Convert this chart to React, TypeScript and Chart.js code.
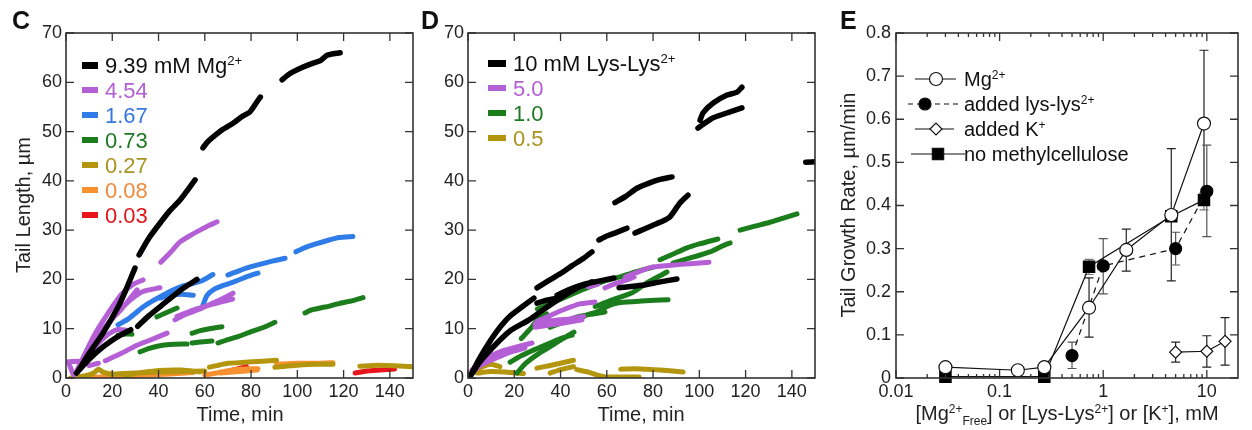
import React, { useEffect, useRef } from "react";
import { Chart, registerables } from "chart.js";
Chart.register(...registerables);

const FONT = "'Liberation Sans', Arial, Helvetica, sans-serif";
type Seg = [number, number][];

// ---------------- Panel C : Tail length vs time, Mg2+ ----------------
const C_X_TICKS = [0, 20, 40, 60, 80, 100, 120, 140];
const C_Y_TICKS = [0, 10, 20, 30, 40, 50, 60, 70];
const C_LABELS = ["9.39 mM Mg^{2+}", "4.54", "1.67", "0.73", "0.27", "0.08", "0.03"];
const C_COLORS = ["#000000", "#b45fd6", "#2f7be8", "#1b7d1b", "#b4960e", "#f7902e", "#e8161c"];
const C_TEXT_COLORS = ["#111111", "#b35fd4", "#3577e0", "#1e7a22", "#a99320", "#ef8a3c", "#e0161c"];

const C_MG939: Seg[] = [
  [[5, 1.2], [10, 5], [16, 9.1], [22.5, 14.4], [26, 18], [29.8, 22.3]],
  [[31.6, 25], [36, 28.5], [40.6, 31.4], [45, 34], [49.3, 36.1], [55.8, 40.2]],
  [[59.2, 46.7], [61, 47.8], [63.1, 48.7], [68, 50.5], [72.2, 51.7], [76, 53], [79.5, 54], [82.5, 56], [84, 57]],
  [[93.4, 60.5], [96, 61.5], [98.1, 62.1], [102, 63], [106.8, 63.9], [110, 64.4], [112.8, 65.5], [118.5, 66]],
  [[4.5, 1], [10, 3.8], [16, 6.3], [22, 8.3], [28, 9.8]],
  [[31, 10.5], [36, 12.7], [41, 14.6], [46, 16.5], [51, 18.3], [56.6, 20]],
];
const C_MG454: Seg[] = [
  [[41, 23.5], [45, 25.4], [49.3, 27.6], [54, 29], [57.9, 30], [62, 31], [65.3, 31.7]],
  [[4.8, 1.6], [12, 8.5], [18, 13], [24, 17], [29, 19], [33.3, 19.9]],
  [[4.8, 1.6], [13, 8], [20, 12], [27, 15.5], [33, 17.5], [40.6, 18.3]],
  [[4.8, 1.6], [12, 7], [18, 11], [24, 14], [30.7, 17.9]],
  [[4.8, 1.6], [12, 6], [18, 8.8], [22, 9.8], [26.4, 9.7]],
  [[10, 2.5], [14, 3]],
  [[17, 3.5], [24, 5], [30, 6.5], [37, 7.8], [43.7, 9.1]],
  [[47.1, 11.8], [52, 13], [58, 14], [64, 15.3], [68, 16.2], [72.2, 17.2]],
  [[48, 12.5], [55, 13.8], [62, 14.8], [72, 16]],
  [[1, 3.3], [7, 3.3], [3.5, 0.6], [1, 3.3]],
];
const C_MG167: Seg[] = [
  [[22.5, 10.8], [27, 12], [33.3, 14.4], [38, 15.8], [41.9, 16.8], [46, 17.8], [50, 18.6], [55, 19.2], [59, 19.8], [63.5, 21]],
  [[40.6, 16.2], [45, 16.8], [50, 17], [55, 16.8]],
  [[59.2, 14.8], [61, 16.8], [64, 18], [68, 18.8], [72, 19.4], [78, 20.5], [83, 21.3]],
  [[70, 20.9], [75, 21.8], [80, 22.6], [85, 23.2], [90, 23.8], [94.7, 24.3]],
  [[99.4, 25.6], [103, 26.4], [108, 27.2], [113, 27.9], [118, 28.5], [124, 28.7]],
];
const C_MG073: Seg[] = [
  [[22.5, 8.7], [25, 8.9], [28.5, 8.9]],
  [[39.3, 12.4], [43, 13.2], [48, 14.2]],
  [[32, 5.3], [36, 6], [40, 6.5], [45, 6.8], [52.3, 6.9]],
  [[54.5, 7.1], [58, 7.3], [63.1, 7.5]],
  [[54.5, 9.1], [58, 9.6], [62, 10], [67.4, 10.4]],
  [[65.7, 7.1], [70, 7.8], [75, 8.5], [80, 9.4], [85, 10.2], [90.3, 11.3]],
  [[103.3, 13.2], [106, 13.8], [112, 14.4], [118, 15.1], [124, 15.7], [128.4, 16.3]],
];
const C_MG027: Seg[] = [
  [[2, 0], [8, 0.4], [12, 1], [14, 1.8], [16, 1.2], [20, 0.8], [30, 1], [40, 1.2], [50, 1.3], [60, 1.4]],
  [[25, 0.6], [40, 1.5], [50, 1.6], [58, 1.2]],
  [[62, 2.2], [66, 2.6], [70, 3], [75, 3.1], [80, 3.3], [85, 3.4], [91, 3.6]],
  [[90.3, 2.2], [95, 2.4], [100, 2.6], [108, 2.8], [115.4, 2.8]],
  [[127, 2.4], [135, 2.6], [142, 2.5], [150, 2.3]],
];
const C_MG008: Seg[] = [
  [[3, 0], [15, 0.2], [30, 0.5], [45, 0.8], [55, 1.1]],
  [[60, 0.6], [65, 1], [70, 1.5], [75, 1.8], [83, 1.9]],
  [[66.6, 1], [75, 1.3], [82.6, 1.6]],
  [[91, 2.8], [100, 3], [110, 3], [115.4, 3.1]],
];
const C_MG003: Seg[] = [
  [[125, 1], [130, 1.4], [136, 1.6], [142, 1.8]],
  [[28, 0.8], [33, 1], [38, 1.2]],
  [[72, 1.6], [78, 2.3]],
  [[5, 0], [12, 0.1]],
];
const C_SERIES = [C_MG939, C_MG454, C_MG167, C_MG073, C_MG027, C_MG008, C_MG003];

// ---------------- Panel D : Lys-Lys2+ ----------------
const D_LABELS = ["10 mM Lys-Lys^{2+}", "5.0", "1.0", "0.5"];
const D_COLORS = ["#000000", "#b45fd6", "#1b7d1b", "#b4960e"];
const D_TEXT_COLORS = ["#111111", "#b35fd4", "#1e7a22", "#a99320"];

const D_LYS10: Seg[] = [
  [[0.5, 0], [5, 3.2], [11.7, 6.7], [18, 9.5], [26.4, 11.8], [33, 14], [40.6, 16.4], [47, 18.2], [53.6, 19.5]],
  [[0.5, 0], [5, 4], [10, 7.8], [13.8, 10.3], [18, 12.5], [23, 14.3], [28.5, 16.2]],
  [[29.8, 15.2], [34, 15.8], [38.5, 16.2]],
  [[38.5, 16.8], [44, 18], [50, 19], [56, 19.6], [63.1, 20.3]],
  [[29.8, 18.3], [35, 19.8], [40, 21.2], [45, 22.8], [50, 24.3], [53.6, 25.6]],
  [[56.6, 28], [60, 28.8], [64, 29.5], [68.7, 30.4]],
  [[65.3, 18.3], [75, 18.8], [82, 19.4], [90.3, 20.1]],
  [[72.2, 29.4], [76, 30.2], [80, 31], [84, 31.8], [87.3, 32.7], [91.6, 35.5], [95.1, 37.1]],
  [[63.5, 35.6], [68, 36.8], [73, 38.5], [78, 39.5], [83, 40.3], [88.2, 40.8]],
  [[100.3, 52.3], [101.6, 53.8], [106, 55.8], [112, 57.4], [116.3, 58], [118.4, 59]],
  [[99.4, 50.7], [102, 51.6], [106, 52.8], [113.3, 54], [118.4, 54.8]],
  [[146, 43.8], [151, 43.9]],
];
const D_LYS5: Seg[] = [
  [[1.7, 1.6], [8, 4], [15, 5.5], [21, 6.3], [27.7, 7.1]],
  [[0, 0], [5, 2.5], [10.4, 3.7], [18, 5.2], [24.6, 6.1]],
  [[29, 10.3], [36, 10.8], [42, 11.2], [49.3, 11.8]],
  [[29, 11], [36, 11.6], [44, 12], [50, 12.5]],
  [[29.8, 11.4], [36, 12.8], [42, 14], [48, 15], [54.9, 15.4]],
  [[59.2, 18.3], [64, 19.2], [68, 19.8], [71.8, 20.5]],
  [[52, 18.5], [56, 19]],
  [[68, 20.5], [75, 21.8], [79.5, 22.5], [88, 22.9], [96, 23.2], [104.2, 23.5]],
];
const D_LYS1: Seg[] = [
  [[18.2, 3.2], [23, 4.5], [28.5, 5.7], [35, 7], [40, 8], [45, 8.7]],
  [[21.2, 1], [25, 3], [30.7, 5], [36, 6.5], [41, 8], [45.8, 9.3]],
  [[23, 8], [27, 10], [30, 11.8], [34, 13]],
  [[30, 14], [40, 16], [50, 18], [58, 19.5], [65.7, 20.5], [72, 21.5], [80, 22.5]],
  [[35.5, 10.3], [42, 11.5], [48, 12.5], [54, 13], [59.2, 13.4]],
  [[48, 12], [51.4, 12.8], [56, 13.5], [61.4, 14.8], [66, 15.3], [75, 15.6], [86.5, 15.9]],
  [[55, 14.5], [62, 15.8], [71, 17.3], [78, 19.5], [86, 21.5]],
  [[83, 24], [88, 25], [94.7, 26.4], [100, 27.2], [108, 28.2]],
  [[88.6, 23.3], [95, 24.2], [104.6, 25.6], [110, 26.8], [113.3, 27.4]],
  [[117.6, 30], [124, 30.8], [130.5, 31.6], [136, 32.4], [142.2, 33.3]],
];
const D_LYS05: Seg[] = [
  [[0.5, 0.5], [5, 2], [10, 2.8], [13.8, 2.3]],
  [[4, 1], [10, 1.3], [16, 1.2], [24, 0.9]],
  [[29.8, 2], [35, 2.5], [40, 3], [45.6, 3.6]],
  [[35.5, 1], [40, 1.7], [45.6, 2.3]],
  [[47, 1.7], [52, 1.2], [56, 0.6], [60, 0.2], [68, 0.2], [74, 0.2]],
  [[66, 1.8], [72, 1.9], [80, 1.7], [86, 1.5], [93, 1.2]],
];
const D_SERIES = [D_LYS10, D_LYS5, D_LYS1, D_LYS05];

// ---------------- Panel E : growth rate vs concentration ----------------
const E_X_TICKS = [0.01, 0.1, 1, 10];
const E_X_TICK_LABELS = ["0.01", "0.1", "1", "10"];
const E_Y_TICKS = [0, 0.1, 0.2, 0.3, 0.4, 0.5, 0.6, 0.7, 0.8];
const E_LABELS = ["Mg^{2+}", "added lys-lys^{2+}", "added K^{+}", "no methylcellulose"];

const E_MG_X = [0.03, 0.15, 0.27, 0.73, 1.67, 4.54, 9.39];
const E_MG_Y = [0.025, 0.018, 0.025, 0.163, 0.297, 0.378, 0.59];
const E_MG_LO = [null, null, null, 0.095, 0.248, 0.225, 0.42];
const E_MG_HI = [null, null, null, 0.232, 0.345, 0.532, 0.76];

const E_LYS_X = [0.5, 1.0, 5.0, 10];
const E_LYS_Y = [0.052, 0.26, 0.3, 0.433];
const E_LYS_LO = [0.022, 0.195, 0.262, 0.328];
const E_LYS_HI = [0.083, 0.323, 0.338, 0.54];

const E_K_X = [5, 10, 15];
const E_K_Y = [0.06, 0.062, 0.085];
const E_K_LO = [0.037, 0.025, 0.03];
const E_K_HI = [0.083, 0.098, 0.14];

const E_NOMC_X = [0.03, 0.27, 0.73, 4.54, 9.39];
const E_NOMC_Y = [0.003, 0.003, 0.258, 0.375, 0.413];
const E_NOMC_LO = [null, null, 0.24, null, 0.39];
const E_NOMC_HI = [null, null, 0.275, null, 0.43];

// ---------------- helpers ----------------
type Part = { t: string; k: "n" | "sup" | "sub" };
function richParts(s: string): Part[] {
  const parts: Part[] = [];
  const re = /\^\{([^}]*)\}|_\{([^}]*)\}/g;
  let last = 0;
  let m: RegExpExecArray | null;
  while ((m = re.exec(s))) {
    if (m.index > last) parts.push({ t: s.slice(last, m.index), k: "n" });
    if (m[1] !== undefined) parts.push({ t: m[1], k: "sup" });
    else parts.push({ t: m[2], k: "sub" });
    last = re.lastIndex;
  }
  if (last < s.length) parts.push({ t: s.slice(last), k: "n" });
  return parts;
}

function drawRich(
  ctx: CanvasRenderingContext2D,
  s: string,
  x: number,
  y: number,
  size: number,
  color: string,
  align: "left" | "center" | "right" = "left",
  weight = "normal"
) {
  const parts = richParts(s);
  const small = size * 0.6;
  let total = 0;
  const widths = parts.map((p) => {
    ctx.font = `${weight} ${p.k === "n" ? size : small}px ${FONT}`;
    const w = ctx.measureText(p.t).width;
    total += w;
    return w;
  });
  let cx = align === "left" ? x : align === "center" ? x - total / 2 : x - total;
  ctx.fillStyle = color;
  ctx.textAlign = "left";
  ctx.textBaseline = "alphabetic";
  const base = y + size * 0.358;
  parts.forEach((p, i) => {
    ctx.font = `${weight} ${p.k === "n" ? size : small}px ${FONT}`;
    const dy = p.k === "sup" ? -size * 0.34 : p.k === "sub" ? size * 0.26 : 0;
    ctx.fillText(p.t, cx, base + dy);
    cx += widths[i];
  });
}

function segData(segs: Seg[]) {
  const out: { x: number; y: number | null }[] = [];
  segs.forEach((s, i) => {
    if (i > 0) out.push({ x: s[0][0], y: null });
    s.forEach(([x, y]) => out.push({ x, y }));
  });
  return out;
}

function pts(xs: number[], ys: number[]) {
  return xs.map((x, i) => ({ x, y: ys[i] }));
}

function drawMarker(ctx: CanvasRenderingContext2D, style: string, x: number, y: number, r: number, fill: string) {
  ctx.beginPath();
  if (style === "circle") ctx.arc(x, y, r, 0, Math.PI * 2);
  else if (style === "rect") {
    const h = r * Math.SQRT1_2;
    ctx.rect(x - h, y - h, 2 * h, 2 * h);
  } else {
    ctx.moveTo(x - r, y);
    ctx.lineTo(x, y - r);
    ctx.lineTo(x + r, y);
    ctx.lineTo(x, y + r);
    ctx.closePath();
  }
  ctx.fillStyle = fill;
  ctx.fill();
  ctx.strokeStyle = "#111";
  ctx.lineWidth = 1.2;
  ctx.stroke();
}

type DecoSpec = {
  id: string;
  letter: [string, number, number];
  xTitle: [string, number, number];
  yTitle?: [string, number, number];
  xTicks: [number, number][];
  yTicks: [number, number][];
  legend: (ctx: CanvasRenderingContext2D) => void;
  beforeData?: (chart: any) => void;
};

function makeDeco(spec: DecoSpec) {
  return {
    id: spec.id,
    beforeDatasetsDraw(chart: any) {
      if (spec.beforeData) spec.beforeData(chart);
    },
    afterDraw(chart: any) {
      const ctx: CanvasRenderingContext2D = chart.ctx;
      const a = chart.chartArea;
      const xs = chart.scales.x;
      const ys = chart.scales.y;
      ctx.save();
      ctx.strokeStyle = "#333";
      ctx.lineWidth = 1.6;
      ctx.strokeRect(a.left, a.top, a.right - a.left, a.bottom - a.top);
      ctx.lineWidth = 1.3;
      ctx.beginPath();
      spec.xTicks.forEach(([v, len]) => {
        const p = xs.getPixelForValue(v);
        ctx.moveTo(p, a.bottom);
        ctx.lineTo(p, a.bottom - len);
        ctx.moveTo(p, a.top);
        ctx.lineTo(p, a.top + len);
      });
      spec.yTicks.forEach(([v, len]) => {
        const p = ys.getPixelForValue(v);
        ctx.moveTo(a.left, p);
        ctx.lineTo(a.left + len, p);
        ctx.moveTo(a.right, p);
        ctx.lineTo(a.right - len, p);
      });
      ctx.stroke();
      drawRich(ctx, spec.letter[0], spec.letter[1], spec.letter[2], 25, "#111", "left", "bold");
      drawRich(ctx, spec.xTitle[0], spec.xTitle[1], spec.xTitle[2], 20, "#222", "center");
      if (spec.yTitle) {
        ctx.save();
        ctx.translate(spec.yTitle[1], spec.yTitle[2]);
        ctx.rotate(-Math.PI / 2);
        drawRich(ctx, spec.yTitle[0], 0, 0, 20, "#222", "center");
        ctx.restore();
      }
      spec.legend(ctx);
      ctx.restore();
    },
  };
}

function linearAxes(xTicks: number[], yTicks: number[], yWidth: number) {
  const tickFont = { family: FONT, size: 18 };
  return {
    x: {
      type: "linear",
      min: 0,
      max: 150,
      grid: { display: false, drawTicks: false },
      border: { display: false },
      afterBuildTicks: (s: any) => {
        s.ticks = xTicks.map((v) => ({ value: v }));
      },
      afterFit: (s: any) => {
        s.height = 52;
      },
      ticks: { font: tickFont, color: "#222", padding: 3, autoSkip: false, maxRotation: 0, minRotation: 0, callback: (v: any) => String(v) },
    },
    y: {
      type: "linear",
      min: 0,
      max: 70,
      grid: { display: false, drawTicks: false },
      border: { display: false },
      afterBuildTicks: (s: any) => {
        s.ticks = yTicks.map((v) => ({ value: v }));
      },
      afterFit: (s: any) => {
        s.width = yWidth;
      },
      ticks: { font: tickFont, color: "#222", padding: 4, autoSkip: false, callback: (v: any) => String(v) },
    },
  };
}

function traceDatasets(series: Seg[][], colors: string[]) {
  return series.map((segs, i) => ({
    data: segData(segs),
    borderColor: colors[i],
    borderWidth: i === 0 ? 5.5 : 5,
    borderCapStyle: "round",
    borderJoinStyle: "round",
    pointRadius: 0,
    tension: 0.2,
    spanGaps: false,
    fill: false,
  }));
}

function configC(): any {
  const deco = makeDeco({
    id: "decoC",
    letter: ["C", 12, 20],
    xTitle: ["Time, min", 240, 414],
    yTitle: ["Tail Length, µm", 23, 205],
    xTicks: C_X_TICKS.map((v) => [v, 8]),
    yTicks: C_Y_TICKS.map((v) => [v, 8]),
    legend: (ctx) => {
      C_LABELS.forEach((lab, i) => {
        const y = 65 + 25 * i;
        ctx.fillStyle = C_COLORS[i];
        ctx.fillRect(82, y - 3, 16, i === 0 ? 7 : 6);
        drawRich(ctx, lab, 105, y, 22, C_TEXT_COLORS[i]);
      });
    },
  });
  return {
    type: "line",
    data: { datasets: traceDatasets(C_SERIES, C_COLORS) },
    options: {
      responsive: false,
      animation: false,
      devicePixelRatio: 1,
      layout: { padding: { left: 0, right: 7, top: 33, bottom: 0 } },
      plugins: { legend: { display: false }, tooltip: { enabled: false } },
      scales: linearAxes(C_X_TICKS, C_Y_TICKS, 66),
    },
    plugins: [deco],
  };
}

function configD(): any {
  const deco = makeDeco({
    id: "decoD",
    letter: ["D", 1, 20],
    xTitle: ["Time, min", 221, 414],
    xTicks: C_X_TICKS.map((v) => [v, 8]),
    yTicks: C_Y_TICKS.map((v) => [v, 8]),
    legend: (ctx) => {
      D_LABELS.forEach((lab, i) => {
        const y = 63 + 25 * i;
        ctx.fillStyle = D_COLORS[i];
        ctx.fillRect(68, y - 3, 18, i === 0 ? 7 : 6);
        drawRich(ctx, lab, 93, y, 22, D_TEXT_COLORS[i]);
      });
    },
  });
  return {
    type: "line",
    data: { datasets: traceDatasets(D_SERIES, D_COLORS) },
    options: {
      responsive: false,
      animation: false,
      devicePixelRatio: 1,
      layout: { padding: { left: 0, right: 15, top: 33, bottom: 0 } },
      plugins: { legend: { display: false }, tooltip: { enabled: false } },
      scales: linearAxes(C_X_TICKS, C_Y_TICKS, 48),
    },
    plugins: [deco],
  };
}

function configE(): any {
  const minor: [number, number][] = [];
  [0.01, 0.1, 1, 10].forEach((d) => {
    for (let k = 2; k <= 9; k++) if (d * k < 20) minor.push([d * k, 4]);
  });
  const errs = [
    { x: E_MG_X, lo: E_MG_LO, hi: E_MG_HI, c: "#222" },
    { x: E_LYS_X, lo: E_LYS_LO, hi: E_LYS_HI, c: "#555" },
    { x: E_K_X, lo: E_K_LO, hi: E_K_HI, c: "#222" },
    { x: E_NOMC_X, lo: E_NOMC_LO, hi: E_NOMC_HI, c: "#777" },
  ];
  const legendStyle = [
    { dash: [] as number[], m: "circle", fill: "#fff", r: 6.5, x0: 915, x1: 956, mx: 936 },
    { dash: [5, 4], m: "circle", fill: "#000", r: 6, x0: 908, x1: 962, mx: 925 },
    { dash: [] as number[], m: "rectRot", fill: "#fff", r: 6, x0: 915, x1: 954, mx: 936 },
    { dash: [] as number[], m: "rect", fill: "#000", r: 8, x0: 911, x1: 965, mx: 938 },
  ];
  const deco = makeDeco({
    id: "decoE",
    letter: ["E", 10, 20],
    xTitle: ["[Mg^{2+}_{Free}] or [Lys-Lys^{2+}] or [K^{+}], mM", 237, 413],
    yTitle: ["Tail Growth Rate, µm/min", 18, 205],
    xTicks: [...E_X_TICKS.map((v) => [v, 8] as [number, number]), ...minor],
    yTicks: E_Y_TICKS.map((v) => [v, 8]),
    beforeData: (chart) => {
      const ctx: CanvasRenderingContext2D = chart.ctx;
      const xs = chart.scales.x;
      const ys = chart.scales.y;
      ctx.save();
      ctx.lineWidth = 1.2;
      errs.forEach((e) => {
        ctx.strokeStyle = e.c;
        e.x.forEach((xv, i) => {
          const lo = e.lo[i];
          const hi = e.hi[i];
          if (lo == null || hi == null) return;
          const px = xs.getPixelForValue(xv);
          const p1 = ys.getPixelForValue(lo);
          const p2 = ys.getPixelForValue(hi);
          ctx.beginPath();
          ctx.moveTo(px, p1);
          ctx.lineTo(px, p2);
          ctx.moveTo(px - 4.5, p1);
          ctx.lineTo(px + 4.5, p1);
          ctx.moveTo(px - 4.5, p2);
          ctx.lineTo(px + 4.5, p2);
          ctx.stroke();
        });
      });
      ctx.restore();
    },
    legend: (ctx) => {
      E_LABELS.forEach((lab, i) => {
        const y = 79 + 25 * i;
        const st = legendStyle[i];
        ctx.save();
        ctx.strokeStyle = "#111";
        ctx.lineWidth = 1.2;
        ctx.setLineDash(st.dash);
        ctx.beginPath();
        ctx.moveTo(st.x0 - 830, y);
        ctx.lineTo(st.x1 - 830, y);
        ctx.stroke();
        ctx.setLineDash([]);
        drawMarker(ctx, st.m, st.mx - 830, y, st.r, st.fill);
        ctx.restore();
        drawRich(ctx, lab, 964 - 830, y, 20, "#111");
      });
    },
  });
  const tickFont = { family: FONT, size: 18 };
  return {
    type: "line",
    data: {
      datasets: [
        { data: pts(E_MG_X, E_MG_Y), borderColor: "#111", borderWidth: 1.2, pointStyle: "circle", pointRadius: 6.5, pointBackgroundColor: "#fff", pointBorderColor: "#111", pointBorderWidth: 1.2, clip: false },
        { data: pts(E_LYS_X, E_LYS_Y), borderColor: "#111", borderWidth: 1.2, borderDash: [6, 5], pointStyle: "circle", pointRadius: 6, pointBackgroundColor: "#000", pointBorderColor: "#000", clip: false },
        { data: pts(E_K_X, E_K_Y), borderColor: "#111", borderWidth: 1.2, pointStyle: "rectRot", pointRadius: 6, pointBackgroundColor: "#fff", pointBorderColor: "#111", pointBorderWidth: 1.2, clip: false },
        { data: pts(E_NOMC_X, E_NOMC_Y), borderColor: "#111", borderWidth: 1.2, pointStyle: "rect", pointRadius: 8, pointBackgroundColor: "#000", pointBorderColor: "#000", clip: false },
      ],
    },
    options: {
      responsive: false,
      animation: false,
      devicePixelRatio: 1,
      layout: { padding: { left: 0, right: 14, top: 33, bottom: 0 } },
      plugins: { legend: { display: false }, tooltip: { enabled: false } },
      scales: {
        x: {
          type: "logarithmic",
          min: 0.01,
          max: 20,
          grid: { display: false, drawTicks: false },
          border: { display: false },
          afterBuildTicks: (s: any) => {
            s.ticks = E_X_TICKS.map((v) => ({ value: v }));
          },
          afterFit: (s: any) => {
            s.height = 52;
          },
          ticks: {
            font: tickFont,
            color: "#222",
            padding: 3,
            autoSkip: false,
            maxRotation: 0,
            minRotation: 0,
            callback: (v: any) => {
              const i = E_X_TICKS.findIndex((t) => Math.abs(t - v) / t < 1e-6);
              return i >= 0 ? E_X_TICK_LABELS[i] : "";
            },
          },
        },
        y: {
          type: "linear",
          min: 0,
          max: 0.8,
          grid: { display: false, drawTicks: false },
          border: { display: false },
          afterBuildTicks: (s: any) => {
            s.ticks = E_Y_TICKS.map((v) => ({ value: v }));
          },
          afterFit: (s: any) => {
            s.width = 66;
          },
          ticks: { font: tickFont, color: "#222", padding: 5, autoSkip: false, callback: (v: any) => String(v) },
        },
      },
    },
    plugins: [deco],
  };
}

export default function App() {
  const refC = useRef<HTMLCanvasElement>(null);
  const refD = useRef<HTMLCanvasElement>(null);
  const refE = useRef<HTMLCanvasElement>(null);
  useEffect(() => {
    const charts = [
      new Chart(refC.current!, configC()),
      new Chart(refD.current!, configD()),
      new Chart(refE.current!, configE()),
    ];
    return () => charts.forEach((c) => c.destroy());
  }, []);
  return (
    <div style={{ position: "fixed", left: 0, top: 0, width: 1252, height: 430, background: "#fff", overflow: "hidden" }}>
      <canvas ref={refC} width={420} height={430} style={{ position: "absolute", left: 0, top: 0, width: 420, height: 430 }} />
      <canvas ref={refD} width={410} height={430} style={{ position: "absolute", left: 420, top: 0, width: 410, height: 430 }} />
      <canvas ref={refE} width={422} height={430} style={{ position: "absolute", left: 830, top: 0, width: 422, height: 430 }} />
    </div>
  );
}
